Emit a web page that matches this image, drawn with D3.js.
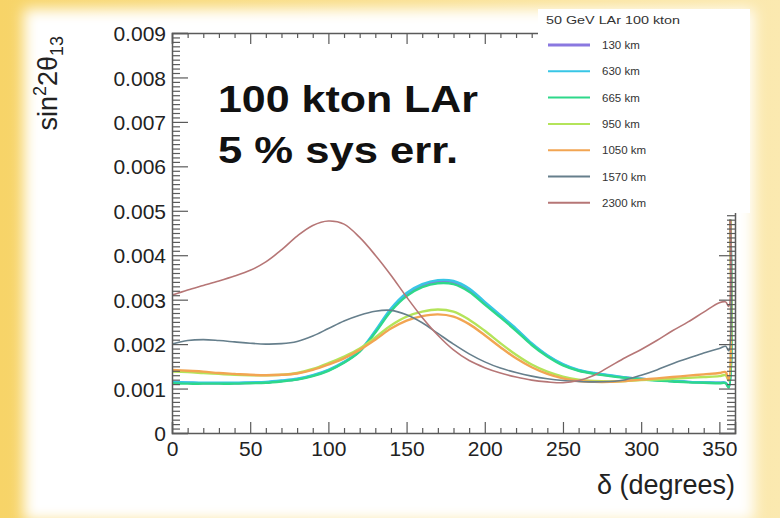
<!DOCTYPE html>
<html>
<head>
<meta charset="utf-8">
<script src="https://cdn.jsdelivr.net/npm/d3@7/dist/d3.min.js"></script>
<style>
  html, body { margin: 0; padding: 0; background: #fff; }
  svg { display: block; font-family: "Liberation Sans", Arial, Helvetica, sans-serif; }
</style>
</head>
<body>
<svg id="chart" width="780" height="518"></svg>
<script>
// CP phase delta (degrees) at which sin^2 2theta13 sensitivity is evaluated
const delta = [0, 10, 20, 30, 40, 50, 60, 70, 80, 90, 100, 110, 120, 130, 140, 150, 160, 170, 180,
               190, 200, 210, 220, 230, 240, 250, 260, 270, 280, 290, 300, 310, 320, 330, 340, 350,
               354, 356, 357];

// Baselines (legend order)
const baselines = ["130 km", "630 km", "665 km", "950 km", "1050 km", "1570 km", "2300 km"];
const lineColors = ["#8a78e0", "#38c6e6", "#2ed88a", "#b4e45a", "#f2a552", "#667f8c", "#b67676"];
const lineWidths = [2.4, 2.4, 2.4, 2.4, 2.4, 1.6, 1.6];

// sensitivity in sin^2 2theta13 for each baseline
const km130 = [0.00114, 0.00113, 0.00112, 0.00112, 0.00112, 0.00113, 0.00114, 0.00117, 0.00121, 0.00129, 0.00141, 0.00159,
               0.00184, 0.00228, 0.00277, 0.00312, 0.00332, 0.00341, 0.00339, 0.00322, 0.00292, 0.00263, 0.00233,
               0.00200, 0.00174, 0.00154, 0.00141, 0.00134, 0.00129, 0.00125, 0.00122, 0.00119, 0.00117, 0.00115,
               0.00114, 0.00113, 0.00113, 0.00104, 0.0048];
const km630 = [0.00115, 0.00114, 0.00113, 0.00113, 0.00113, 0.00114, 0.00115, 0.00118, 0.00122, 0.00130, 0.00142, 0.00160,
               0.00185, 0.00230, 0.00280, 0.00315, 0.00335, 0.00344, 0.00342, 0.00325, 0.00295, 0.00265, 0.00235,
               0.00202, 0.00175, 0.00155, 0.00142, 0.00135, 0.00130, 0.00125, 0.00122, 0.00119, 0.00117, 0.00115,
               0.00114, 0.00113, 0.00113, 0.00105, 0.0048];
const km665 = [0.00112, 0.00111, 0.00111, 0.00111, 0.00111, 0.00112, 0.00113, 0.00116, 0.00120, 0.00128, 0.00140, 0.00158,
               0.00183, 0.00226, 0.00274, 0.00308, 0.00328, 0.00337, 0.00335, 0.00318, 0.00289, 0.00260, 0.00230,
               0.00198, 0.00172, 0.00152, 0.00140, 0.00133, 0.00128, 0.00124, 0.00121, 0.00118, 0.00116, 0.00114,
               0.00113, 0.00112, 0.00112, 0.00102, 0.0048];
const km950 = [0.00138, 0.00137, 0.00135, 0.00133, 0.00131, 0.00130, 0.00130, 0.00131, 0.00135, 0.00144, 0.00157, 0.00172,
               0.00190, 0.00215, 0.00242, 0.00262, 0.00273, 0.00278, 0.00273, 0.00255, 0.00230, 0.00202, 0.00176,
               0.00154, 0.00138, 0.00127, 0.00120, 0.00117, 0.00116, 0.00117, 0.00119, 0.00120, 0.00122, 0.00124,
               0.00126, 0.00128, 0.00130, 0.00118, 0.0048];
const km1050 = [0.00142, 0.00140, 0.00138, 0.00135, 0.00133, 0.00131, 0.00130, 0.00131, 0.00134, 0.00142, 0.00154, 0.00168,
                0.00187, 0.00210, 0.00235, 0.00253, 0.00263, 0.00267, 0.00262, 0.00245, 0.00220, 0.00193, 0.00168,
                0.00148, 0.00133, 0.00123, 0.00117, 0.00115, 0.00115, 0.00117, 0.00120, 0.00123, 0.00126, 0.00129,
                0.00132, 0.00135, 0.00137, 0.00120, 0.0048];
const km1570 = [0.00200, 0.00208, 0.00210, 0.00208, 0.00205, 0.00202, 0.00200, 0.00201, 0.00206, 0.00218, 0.00235, 0.00252,
                0.00265, 0.00274, 0.00276, 0.00266, 0.00248, 0.00224, 0.00200, 0.00178, 0.00160, 0.00146, 0.00136,
                0.00128, 0.00122, 0.00118, 0.00116, 0.00115, 0.00116, 0.00120, 0.00130, 0.00142, 0.00156, 0.00168,
                0.00180, 0.00190, 0.00195, 0.00185, 0.0048];
const km2300 = [0.00310, 0.00322, 0.00332, 0.00342, 0.00353, 0.00366, 0.00385, 0.00412, 0.00443, 0.00467, 0.00477, 0.00470,
                0.00440, 0.00400, 0.00355, 0.00306, 0.00260, 0.00220, 0.00187, 0.00163, 0.00147, 0.00135, 0.00126,
                0.00119, 0.00115, 0.00113, 0.00118, 0.00130, 0.00150, 0.00170, 0.00188, 0.00208, 0.00230, 0.00250,
                0.00272, 0.00293, 0.00295, 0.00285, 0.0048];
const series = [km130, km630, km665, km950, km1050, km1570, km2300];

// axis ticks
const xMajor = [0, 50, 100, 150, 200, 250, 300, 350];
const yMajor = [0, 0.001, 0.002, 0.003, 0.004, 0.005, 0.006, 0.007, 0.008, 0.009];
const yLabels = ["0", "0.001", "0.002", "0.003", "0.004", "0.005", "0.006", "0.007", "0.008", "0.009"];

const svg = d3.select("#chart");
const W = 780, H = 518;
const defs = svg.append("defs");

// slide background: warm yellow border fading into a white panel
const bg = defs.append("linearGradient").attr("id", "bgGrad").attr("x1", 0).attr("y1", 0).attr("x2", 1).attr("y2", 0);
bg.append("stop").attr("offset", "0%").attr("stop-color", "#f7d468");
bg.append("stop").attr("offset", "100%").attr("stop-color", "#fbe9b0");
defs.append("filter").attr("id", "soft").attr("x", "-10%").attr("y", "-10%").attr("width", "120%").attr("height", "120%")
  .append("feGaussianBlur").attr("stdDeviation", 7);
svg.append("rect").attr("width", W).attr("height", H).attr("fill", "url(#bgGrad)");
svg.append("rect").attr("x", 24).attr("y", 9).attr("width", 730).attr("height", 512)
  .attr("fill", "#fff").attr("filter", "url(#soft)");

const margin = { left: 172, right: 45, top: 33, bottom: 85 };
const x = d3.scaleLinear().domain([0, 360]).range([margin.left, W - margin.right]);
const y = d3.scaleLinear().domain([0, 0.009]).range([H - margin.bottom, margin.top]);

const axisColor = "#5a5a5a";
const labelColor = "#222";

// curves, clipped to the frame
defs.append("clipPath").attr("id", "plotClip").append("rect")
  .attr("x", x(0)).attr("y", y(0.009)).attr("width", x(360) - x(0)).attr("height", y(0) - y(0.009));
const line = d3.line().x((d, i) => x(delta[i])).y(d => y(d)).curve(d3.curveCatmullRom.alpha(0.5));
const curves = svg.append("g").attr("clip-path", "url(#plotClip)");
series.forEach((vals, k) => {
  curves.append("path").datum(vals)
    .attr("d", line)
    .attr("fill", "none")
    .attr("stroke", lineColors[k])
    .attr("stroke-width", lineWidths[k])
    .attr("stroke-linejoin", "round");
});

// frame axes with inward ticks
function styleAxis(g) {
  g.select(".domain").attr("stroke", axisColor).attr("stroke-width", 1.5);
  g.selectAll(".tick line").attr("stroke", axisColor).attr("stroke-width", 1.2);
  g.selectAll(".tick text").attr("fill", labelColor).attr("font-size", 21)
    .attr("font-family", "'Liberation Sans', Arial, sans-serif");
}
const xMinor = delta.filter(d => d % 10 === 0 && d % 50 !== 0);
const yMinor = d3.range(1, 90).map(i => i / 10000).filter((v, i) => (i + 1) % 10 !== 0);

const gxB = svg.append("g").attr("transform", `translate(0,${y(0)})`)
  .call(d3.axisBottom(x).tickValues(xMajor).tickSize(-11).tickPadding(5).tickFormat(d3.format("d")));
styleAxis(gxB);
gxB.selectAll(".tick text").attr("dy", "0.85em");
svg.append("g").attr("transform", `translate(0,${y(0)})`)
  .call(d3.axisBottom(x).tickValues(xMinor).tickSize(-5).tickFormat(""))
  .call(styleAxis).select(".domain").remove();

const gxT = svg.append("g").attr("transform", `translate(0,${y(0.009)})`)
  .call(d3.axisTop(x).tickValues(xMajor).tickSize(-11).tickFormat(""));
styleAxis(gxT);
svg.append("g").attr("transform", `translate(0,${y(0.009)})`)
  .call(d3.axisTop(x).tickValues(xMinor).tickSize(-5).tickFormat(""))
  .call(styleAxis).select(".domain").remove();

const gyL = svg.append("g").attr("transform", `translate(${x(0)},0)`)
  .call(d3.axisLeft(y).tickValues(yMajor).tickSize(-16).tickPadding(6).tickFormat((d, i) => yLabels[i]));
styleAxis(gyL);
gyL.selectAll(".tick text").attr("dy", "0.36em");
svg.append("g").attr("transform", `translate(${x(0)},0)`)
  .call(d3.axisLeft(y).tickValues(yMinor).tickSize(-8).tickFormat(""))
  .call(styleAxis).select(".domain").remove();

const gyR = svg.append("g").attr("transform", `translate(${x(360)},0)`)
  .call(d3.axisRight(y).tickValues(yMajor).tickSize(-16).tickFormat(""));
styleAxis(gyR);
svg.append("g").attr("transform", `translate(${x(360)},0)`)
  .call(d3.axisRight(y).tickValues(yMinor).tickSize(-8).tickFormat(""))
  .call(styleAxis).select(".domain").remove();

// axis titles
svg.append("text")
  .attr("x", x(360)).attr("y", 494)
  .attr("text-anchor", "end").attr("font-size", 27).attr("fill", labelColor)
  .text("δ (degrees)");

const yTitle = svg.append("text")
  .attr("transform", `translate(57,36) rotate(-90)`)
  .attr("text-anchor", "end").attr("font-size", 27).attr("fill", labelColor);
yTitle.append("tspan").text("sin");
yTitle.append("tspan").attr("dy", -11).attr("font-size", 18).text("2");
yTitle.append("tspan").attr("dy", 11).text("2θ");
yTitle.append("tspan").attr("dy", 6).attr("font-size", 18).text("13");

// annotation
svg.append("text").attr("x", 218).attr("y", 112)
  .attr("font-size", 37).attr("font-weight", "bold").attr("fill", "#111")
  .attr("textLength", 260).attr("lengthAdjust", "spacingAndGlyphs")
  .text("100 kton LAr");
svg.append("text").attr("x", 218).attr("y", 163)
  .attr("font-size", 37).attr("font-weight", "bold").attr("fill", "#111")
  .attr("textLength", 240).attr("lengthAdjust", "spacingAndGlyphs")
  .text("5 % sys err.");

// legend (opaque box over the frame corner)
const leg = svg.append("g");
leg.append("rect").attr("x", 538).attr("y", 9).attr("width", 212).attr("height", 204).attr("fill", "#fff");
leg.append("text").attr("x", 546).attr("y", 24).attr("font-size", 11.5).attr("fill", "#333")
  .attr("textLength", 134).attr("lengthAdjust", "spacingAndGlyphs")
  .text("50 GeV LAr 100 kton");
baselines.forEach((name, k) => {
  const yy = 45 + k * 26.3;
  leg.append("line").attr("x1", 548).attr("x2", 590).attr("y1", yy).attr("y2", yy)
    .attr("stroke", lineColors[k]).attr("stroke-width", k === 0 ? 3 : 2);
  leg.append("text").attr("x", 602).attr("y", yy).attr("dy", "0.35em")
    .attr("font-size", 11.5).attr("fill", "#333").text(name);
});
</script>
</body>
</html>
